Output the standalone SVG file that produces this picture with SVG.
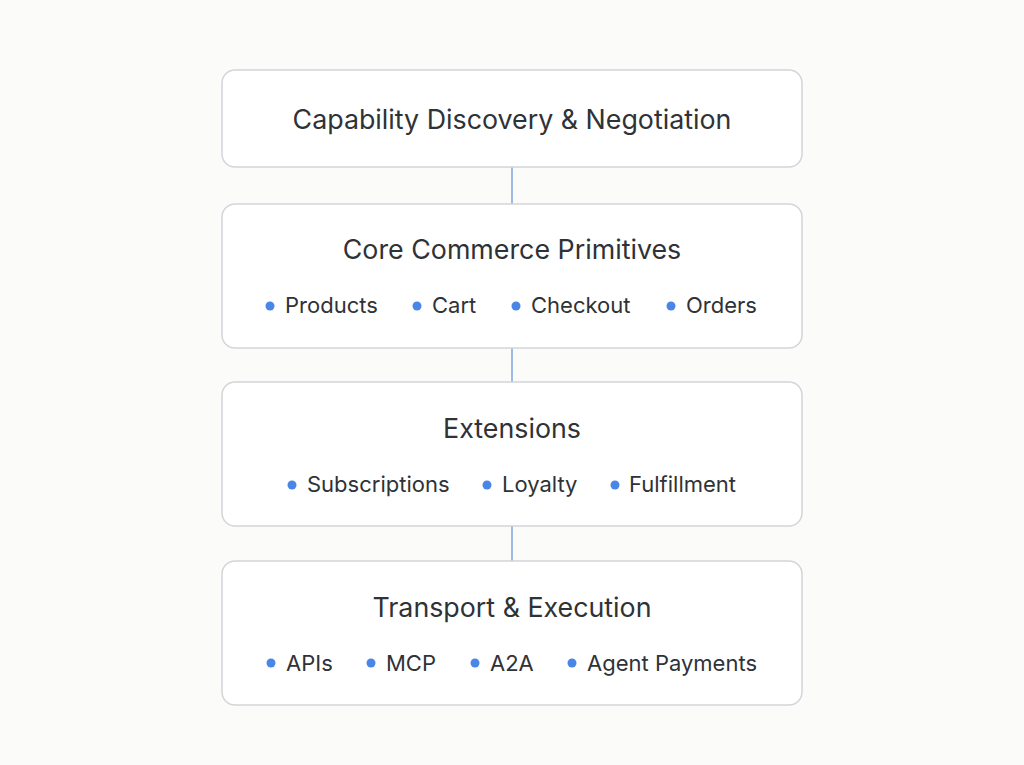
<svg xmlns="http://www.w3.org/2000/svg" width="1024" height="765" viewBox="0 0 1024 765">
<style>
.box{fill:#ffffff;stroke:#d3d5d9;stroke-width:1.5}
.title{font-family:Inter,"Open Sans",sans-serif;font-size:26.8px;fill:#2f3236;text-anchor:middle}
.item{font-family:Inter,"Open Sans",sans-serif;font-size:22px;fill:#2f3236}
.dot{fill:#4a86e8}
.conn{stroke:#7fa6e0;stroke-width:1.5}
</style>
<rect width="1024" height="765" fill="#fbfbfa"/>
<g id="connectors">
<line class="conn" x1="512" y1="167" x2="512" y2="204"/>
<line class="conn" x1="512" y1="348" x2="512" y2="382"/>
<line class="conn" x1="512" y1="526" x2="512" y2="561"/>
</g>
<g id="node-discovery">
<rect class="box" x="222" y="70" width="580" height="97" rx="13"/>
<text class="title" x="512" y="129">Capability Discovery &amp; Negotiation</text>
</g>
<g id="node-core">
<rect class="box" x="222" y="204" width="580" height="144" rx="13"/>
<text class="title" x="512" y="259">Core Commerce Primitives</text>
<circle class="dot" cx="270" cy="306" r="4.5"/><text class="item" x="285" y="313">Products</text>
<circle class="dot" cx="417" cy="306" r="4.5"/><text class="item" x="432" y="313">Cart</text>
<circle class="dot" cx="516" cy="306" r="4.5"/><text class="item" x="531" y="313">Checkout</text>
<circle class="dot" cx="671" cy="306" r="4.5"/><text class="item" x="686" y="313">Orders</text>
</g>
<g id="node-extensions">
<rect class="box" x="222" y="382" width="580" height="144" rx="13"/>
<text class="title" x="512" y="438">Extensions</text>
<circle class="dot" cx="292" cy="485" r="4.5"/><text class="item" x="307" y="492">Subscriptions</text>
<circle class="dot" cx="487" cy="485" r="4.5"/><text class="item" x="502" y="492">Loyalty</text>
<circle class="dot" cx="615" cy="485" r="4.5"/><text class="item" x="629" y="492">Fulfillment</text>
</g>
<g id="node-transport">
<rect class="box" x="222" y="561" width="580" height="144" rx="13"/>
<text class="title" x="512" y="617">Transport &amp; Execution</text>
<circle class="dot" cx="271" cy="663" r="4.5"/><text class="item" x="286" y="671">APIs</text>
<circle class="dot" cx="371" cy="663" r="4.5"/><text class="item" x="386" y="671">MCP</text>
<circle class="dot" cx="475" cy="663" r="4.5"/><text class="item" x="490" y="671">A2A</text>
<circle class="dot" cx="572" cy="663" r="4.5"/><text class="item" x="587" y="671">Agent Payments</text>
</g>
</svg>
